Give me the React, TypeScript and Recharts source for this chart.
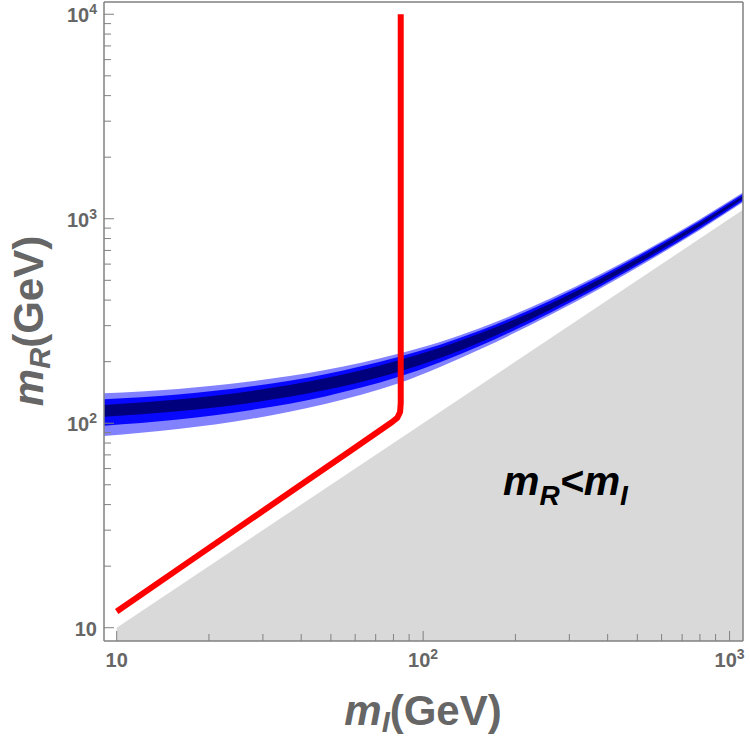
import { Area, ComposedChart, Line, ReferenceLine, XAxis, YAxis } from "recharts";

// axis ranges (log scales)
const xDomain = [9.09, 1106];
const yDomain = [8.61, 11480];
const xTicks = [10, 20, 30, 40, 50, 60, 70, 80, 90, 100, 200, 300, 400, 500, 600, 700, 800, 900, 1000];
const yTicks = [
  10, 20, 30, 40, 50, 60, 70, 80, 90, 100, 200, 300, 400, 500, 600, 700, 800, 900,
  1000, 2000, 3000, 4000, 5000, 6000, 7000, 8000, 9000, 10000,
];
const majorTicks = [10, 100, 1000, 10000];

// blue band: m_I samples and band edges (outer, middle, core)
const bandX = [9.09, 15.85, 27.6, 47.9, 82.3, 113.6, 153.5, 259.8, 378.5, 550.9, 802.5, 1108];
const lightHi = [140.1, 147.1, 160.4, 182.1, 218.1, 249.9, 292.2, 407.8, 535.8, 722.0, 998.4, 1344.6];
const midHi = [130.9, 138.2, 151.6, 173.7, 210.1, 242.2, 283.8, 397.4, 523.8, 708.3, 981.6, 1322.1];
const darkHi = [122.9, 130.5, 143.9, 165.9, 202.2, 234.1, 275.3, 384.2, 508.7, 690.2, 958.7, 1292.7];
const darkLo = [107.6, 114.3, 126.0, 145.2, 177.5, 208.2, 248.9, 359.2, 479.8, 657.0, 920.6, 1255.4];
const midLo = [97.3, 104.3, 116.1, 135.3, 167.6, 198.6, 239.2, 347.2, 465.9, 640.0, 899.1, 1227.4];
const lightLo = [86.6, 93.6, 105.1, 124.2, 155.8, 188.2, 229.9, 338.3, 455.5, 627.9, 884.1, 1206.5];

// red curve
const redX = [10, 18.7, 39.7, 57.8, 79.2, 82.3, 84.1, 84.5, 84.5];
const redY = [12.0, 22.9, 49.7, 73.1, 101.4, 106.1, 113.4, 125.6, 10000];

// excluded region m_R < m_I
const grayX = [10, 1106];

const band = bandX.map((x, i) => ({
  x,
  light: [lightLo[i], lightHi[i]],
  mid: [midLo[i], midHi[i]],
  dark: [darkLo[i], darkHi[i]],
}));
const red = redX.map((x, i) => ({ x, y: redY[i] }));
const gray = grayX.map((x) => ({ x, g: [yDomain[0], x] }));

const axisColor = "#808080";
const labelColor = "#666666";
const font = "'Liberation Sans', Arial, sans-serif";

const XTick = (props: any) => {
  const { x, y, payload } = props;
  const v = payload.value;
  const major = majorTicks.includes(v);
  const exp = Math.round(Math.log10(v));
  return (
    <g>
      <line x1={x} x2={x} y1={y} y2={y - (major ? 10 : 7)} stroke={axisColor} />
      {major && (
        <text x={x} y={y + 26} textAnchor="middle" fontSize={20} fontWeight="bold" fill={labelColor} fontFamily={font}>
          10
          {exp > 1 && (
            <tspan dy={-8} fontSize={14}>
              {exp}
            </tspan>
          )}
        </text>
      )}
    </g>
  );
};

const YTick = (props: any) => {
  const { x, y, payload } = props;
  const v = payload.value;
  const major = majorTicks.includes(v);
  const exp = Math.round(Math.log10(v));
  return (
    <g>
      <line x1={x} x2={x + (major ? 10 : 7)} y1={y} y2={y} stroke={axisColor} />
      {major && (
        <text x={x - 7} y={y + 8} textAnchor="end" fontSize={20} fontWeight="bold" fill={labelColor} fontFamily={font}>
          10
          {exp > 1 && (
            <tspan dy={-8} fontSize={14}>
              {exp}
            </tspan>
          )}
        </text>
      )}
    </g>
  );
};

export default function App() {
  return (
    <div style={{ position: "absolute", left: 0, top: 0, width: 750, height: 742, background: "#fff" }}>
      <ComposedChart width={750} height={742} margin={{ top: 2, right: 7, bottom: 61, left: 44 }}>
        <XAxis
          dataKey="x"
          type="number"
          scale="log"
          domain={xDomain}
          allowDataOverflow
          ticks={xTicks}
          interval={0}
          height={40}
          tickSize={0}
          tickMargin={0}
          tickLine={false}
          axisLine={{ stroke: axisColor, strokeWidth: 1.5 }}
          tick={<XTick />}
        />
        <YAxis
          type="number"
          scale="log"
          domain={yDomain}
          allowDataOverflow
          ticks={yTicks}
          interval={0}
          width={60}
          tickSize={0}
          tickMargin={0}
          tickLine={false}
          axisLine={{ stroke: axisColor, strokeWidth: 1.5 }}
          tick={<YTick />}
        />
        <Area data={gray} dataKey="g" type="linear" stroke="none" fill="#d9d9d9" fillOpacity={1} isAnimationActive={false} />
        <Area data={band} dataKey="light" type="monotone" stroke="none" fill="#8282ff" fillOpacity={1} isAnimationActive={false} />
        <Area data={band} dataKey="mid" type="monotone" stroke="none" fill="#0808ff" fillOpacity={1} isAnimationActive={false} />
        <Area data={band} dataKey="dark" type="monotone" stroke="none" fill="#00007c" fillOpacity={1} isAnimationActive={false} />
        <Line data={red} dataKey="y" type="linear" stroke="#ff0000" strokeWidth={6} strokeLinejoin="round" dot={false} activeDot={false} isAnimationActive={false} />
        <ReferenceLine x={xDomain[1]} stroke={axisColor} strokeWidth={1.5} />
        <ReferenceLine y={yDomain[1]} stroke={axisColor} strokeWidth={1.5} />
      </ComposedChart>
      <svg width={750} height={742} style={{ position: "absolute", left: 0, top: 0, pointerEvents: "none" }}>
        <text x={423} y={725} textAnchor="middle" fontSize={42} fontWeight="bold" fill={labelColor} fontFamily={font}>
          <tspan fontStyle="italic">m</tspan>
          <tspan fontStyle="italic" fontSize={29} dy={7}>I</tspan>
          <tspan dy={-7}>(GeV)</tspan>
        </text>
        <text transform="translate(43,321) rotate(-90)" textAnchor="middle" fontSize={42} fontWeight="bold" fill={labelColor} fontFamily={font}>
          <tspan fontStyle="italic">m</tspan>
          <tspan fontStyle="italic" fontSize={29} dy={7}>R</tspan>
          <tspan dy={-7}>(GeV)</tspan>
        </text>
        <text x={503} y={495} fontSize={41} fontWeight="bold" fontStyle="italic" fill="#000" fontFamily={font}>
          m<tspan fontSize={28} dy={10}>R</tspan>
          <tspan dy={-10}>&lt;m</tspan>
          <tspan fontSize={28} dy={10}>I</tspan>
        </text>
      </svg>
    </div>
  );
}
